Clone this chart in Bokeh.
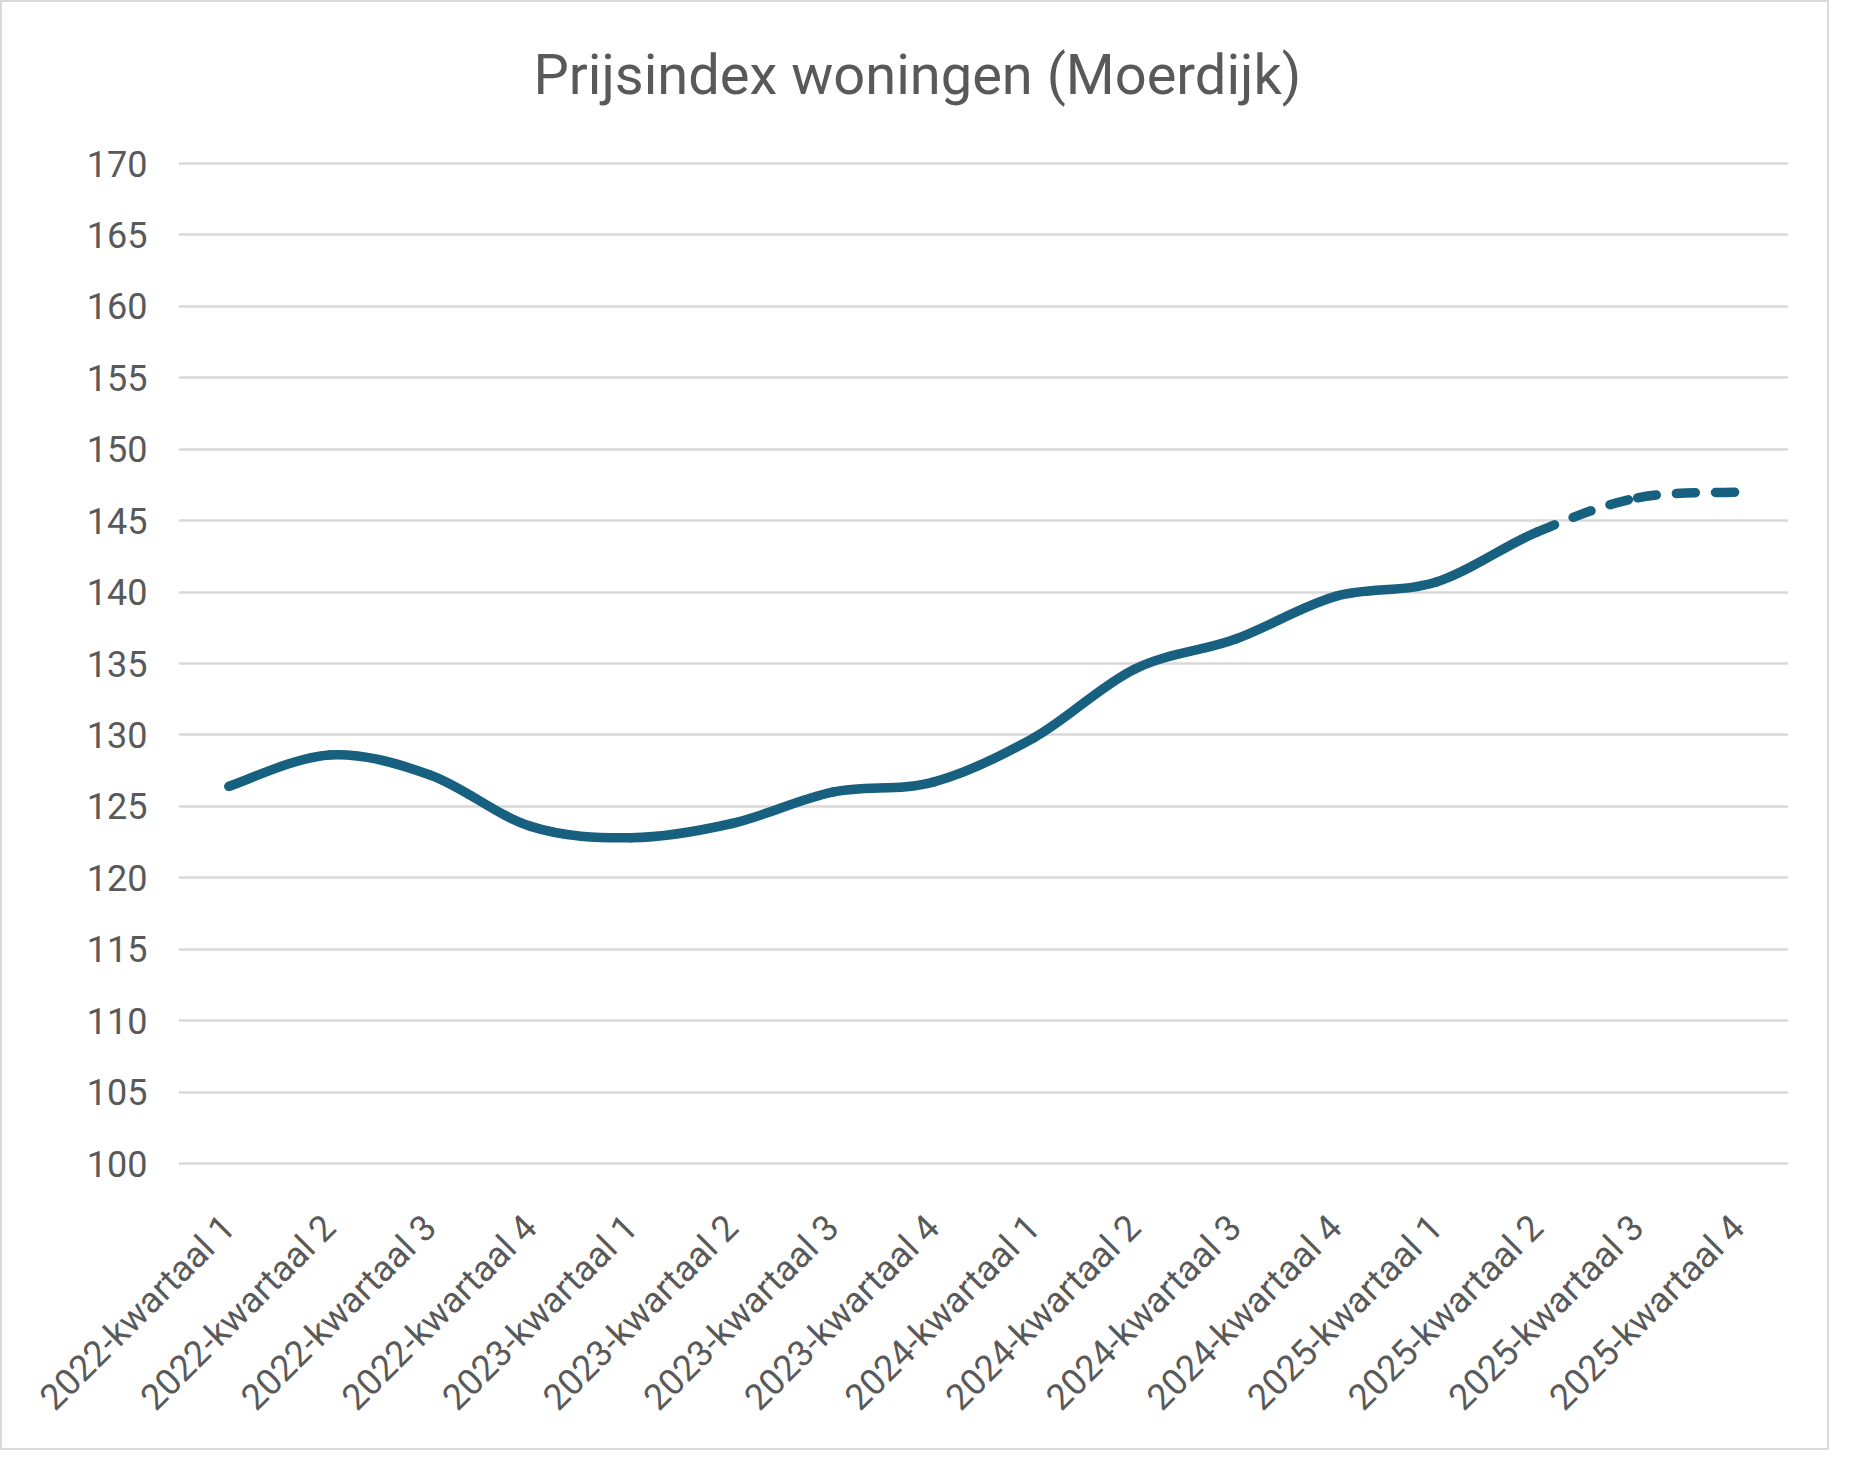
import math
from bokeh.plotting import figure
from bokeh.models import FixedTicker, Range1d, Title
from bokeh.embed import file_html
from bokeh.resources import INLINE

# ---------------- data ----------------
quarters = [
    "2022-kwartaal 1", "2022-kwartaal 2", "2022-kwartaal 3", "2022-kwartaal 4",
    "2023-kwartaal 1", "2023-kwartaal 2", "2023-kwartaal 3", "2023-kwartaal 4",
    "2024-kwartaal 1", "2024-kwartaal 2", "2024-kwartaal 3", "2024-kwartaal 4",
    "2025-kwartaal 1", "2025-kwartaal 2", "2025-kwartaal 3", "2025-kwartaal 4",
]
index_values = [126.4, 128.6, 127.2, 123.6, 122.8, 123.8, 126.0, 126.7,
                129.8, 134.6, 136.7, 139.7, 140.7, 144.2, 146.6, 147.0]
forecast_start = 13          # segments from this quarter on are dashed
y_ticks = [100, 105, 110, 115, 120, 125, 130, 135, 140, 145, 150, 155, 160, 165, 170]
title_text = "Prijsindex woningen (Moerdijk)"

# ---------------- style / layout ----------------
FONT = "Roboto"
TEXT_COLOR = "#595959"
LINE_COLOR = "#17607f"
GRID_COLOR = "#d9d9d9"

W, H = 1829, 1450
FRAME_L, FRAME_R, FRAME_T, FRAME_B = 176, 1786, 159, 1163
Y_MIN, Y_MAX = 100, 170
PX_PER_UNIT = 1000 / (Y_MAX - Y_MIN)
pad = (FRAME_B - FRAME_T - (Y_MAX - Y_MIN) * PX_PER_UNIT) / 2 / PX_PER_UNIT

n = len(index_values)
x_lo, x_hi = -0.5, n - 0.5

p = figure(width=W, height=H, output_backend="svg", toolbar_location=None,
           x_range=Range1d(x_lo, x_hi), y_range=Range1d(Y_MIN - pad, Y_MAX + pad),
           min_border_left=FRAME_L, min_border_right=W - FRAME_R,
           min_border_top=FRAME_T, min_border_bottom=H - FRAME_B,
           background_fill_color="white", border_fill_color="white")
p.outline_line_color = None
p.styles = {"border": "2px solid #d9d9d9"}

# title: an invisible spacer next to the frame, the real title above it
p.title.text = ""
p.add_layout(Title(text=" ", text_font_size="1px", standoff=51), "above")
p.add_layout(Title(text=title_text, align="left", offset=355, standoff=0,
                   text_font=FONT, text_font_size="56px", text_font_style="normal",
                   text_color=TEXT_COLOR), "above")

# axes
p.xaxis.ticker = FixedTicker(ticks=list(range(n)))
p.xaxis.major_label_overrides = {i: q for i, q in enumerate(quarters)}
p.xaxis.major_label_orientation = math.pi / 4
p.yaxis.ticker = FixedTicker(ticks=y_ticks)
for ax in (p.xaxis, p.yaxis):
    ax.axis_line_color = None
    ax.major_tick_line_color = None
    ax.minor_tick_line_color = None
    ax.major_tick_out = 0
    ax.major_tick_in = 0
    ax.major_label_text_font = FONT
    ax.major_label_text_font_size = "36px"
    ax.major_label_text_color = TEXT_COLOR
p.yaxis.major_label_standoff = 31
p.xaxis.major_label_standoff = 56

p.xgrid.grid_line_color = None
p.ygrid.grid_line_color = GRID_COLOR
p.ygrid.grid_line_width = 2.5

# smoothed line (Excel-like cubic Bezier through the data points)
def seg(i):
    xs = list(range(n))
    v = index_values
    ip = max(i - 1, 0)
    inn = min(i + 2, n - 1)
    cx0 = xs[i] + (xs[i + 1] - xs[ip]) / 6
    cy0 = v[i] + (v[i + 1] - v[ip]) / 6
    cx1 = xs[i + 1] - (xs[inn] - xs[i]) / 6
    cy1 = v[i + 1] - (v[inn] - v[i]) / 6
    return dict(x0=xs[i], y0=v[i], x1=xs[i + 1], y1=v[i + 1],
                cx0=cx0, cy0=cy0, cx1=cx1, cy1=cy1)

solid = [seg(i) for i in range(0, forecast_start)]
dashed = [seg(i) for i in range(forecast_start, n - 1)]

def cols(segs):
    keys = ["x0", "y0", "x1", "y1", "cx0", "cy0", "cx1", "cy1"]
    return {k: [s[k] for s in segs] for k in keys}

p.bezier(line_color=LINE_COLOR, line_width=9.5, line_cap="round", **cols(solid))
p.bezier(line_color=LINE_COLOR, line_width=9.5, line_cap="round",
         line_dash="19 20", **cols(dashed))

open("out.html", "w").write(file_html(p, INLINE))
